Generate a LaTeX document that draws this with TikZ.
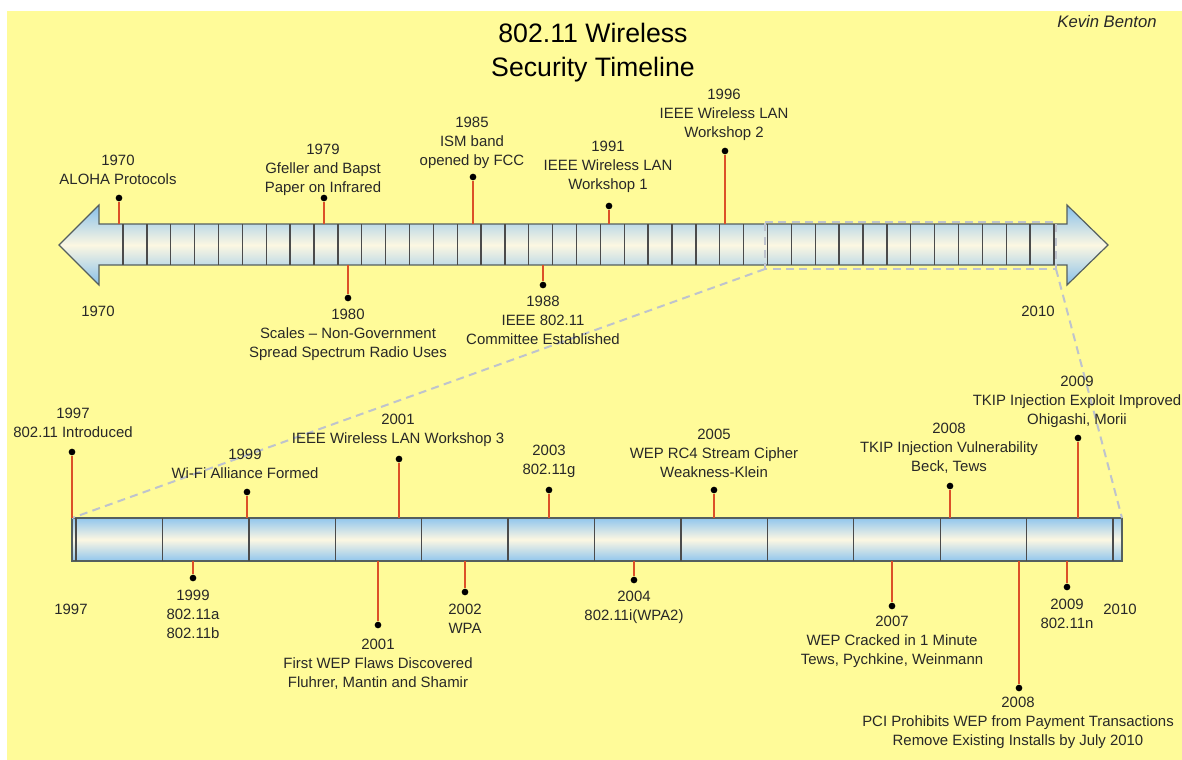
\documentclass[tikz,border=0pt]{standalone}
\usepackage{fontspec}
\setmainfont{Liberation Sans}
\definecolor{bgyellow}{RGB}{255,251,153}
\definecolor{arrowblue}{RGB}{135,192,235}
\definecolor{barblue}{RGB}{145,198,238}
\definecolor{cream}{RGB}{252,247,226}
\definecolor{outl}{RGB}{85,95,95}
\definecolor{tickc}{RGB}{75,75,75}
\definecolor{stemred}{RGB}{220,80,40}
\definecolor{dashc}{RGB}{190,195,205}
\definecolor{txt}{RGB}{40,40,40}
\newcommand\tlev[7]{%
  \coordinate (#1b) at (#2,#3);
  \node[dot] (#1d) at (#2,#4) {};
  \draw[stem] (#1b) -- (#1d);
  \node[lbl] (#1t) at (#5,#6) {#7};
}
\begin{document}
\begin{tikzpicture}[x=0.75pt,y=-0.75pt,
  lbl/.style={font=\fontsize{11.2}{14.3}\selectfont, align=center, inner sep=0pt, text=txt},
  dot/.style={circle, fill=black, inner sep=0pt, minimum size=5pt},
  stem/.style={draw=stemred, line width=1.1pt},
  zoomline/.style={draw=dashc, line width=1.5pt, dash pattern=on 6pt off 4pt},
  tickline/.style={draw=tickc, line width=1pt}]
\useasboundingbox (0,0) rectangle (1182,760);
\fill[white] (0,0) rectangle (1182,760);
\fill[bgyellow] (7,11) rectangle (1182,760);

% title
\node[font=\fontsize{20}{25.5}\selectfont, align=center, inner sep=0pt, text=black] (title) at (593,53) {802.11 Wireless\\Security Timeline};
\node[font=\fontsize{12.5}{14}\selectfont\itshape, inner sep=0pt, text=txt] (author) at (1107,22) {Kevin Benton};

% top arrow
\shade[top color=arrowblue, bottom color=arrowblue, middle color=cream, draw=outl, line width=0.9pt]
  (59,245) -- (99,205) -- (99,224) -- (1067,224) -- (1067,205) -- (1108,245)
  -- (1067,285) -- (1067,265) -- (99,265) -- (99,285) -- cycle;
\foreach \k in {0,...,39} {
  \draw[tickline] ({123+23.87*\k},224) -- ({123+23.87*\k},265);
}

% bottom bar
\shade[top color=barblue, bottom color=barblue, middle color=cream, draw=outl, line width=0.9pt]
  (72,518) rectangle (1122,561);
\foreach \k in {0,...,12} {
  \draw[tickline] ({76+86.42*\k},518) -- ({76+86.42*\k},561);
}

% zoom indicator
\coordinate (zA) at (765,222);
\coordinate (zB) at (1056,222);
\coordinate (zC) at (1056,269);
\coordinate (zD) at (765,269);
\coordinate (bA) at (72,518);
\coordinate (bB) at (1122,518);
\draw[zoomline] (zA) -- (zB) -- (zC) -- (zD) -- cycle;
\draw[zoomline] (zD) -- (bA);
\draw[zoomline] (zC) -- (bB);

% top events
\tlev{a}{119}{224}{198}{118}{170}{1970\\ALOHA Protocols}
\tlev{b}{324}{224}{198}{323}{170}{1979\\Gfeller and Bapst\\Paper on Infrared}
\tlev{c}{473}{224}{177}{472}{142.5}{1985\\ISM band\\opened by FCC}
\tlev{d}{609}{224}{206}{608}{167}{1991\\IEEE Wireless LAN\\Workshop 1}
\tlev{e}{725}{224}{151}{724}{114.5}{1996\\IEEE Wireless LAN\\Workshop 2}
\tlev{f}{348}{265}{298}{348}{335}{1980\\Scales -- Non-Government\\Spread Spectrum Radio Uses}
\tlev{g}{543}{265}{285}{543}{320}{1988\\IEEE 802.11\\Committee Established}
\node[lbl] (y1970) at (98,311) {1970};
\node[lbl] (y2010) at (1038,311) {2010};

% bottom events above
\tlev{h}{72}{518}{452}{73}{423}{1997\\802.11 Introduced}
\tlev{i}{247}{518}{492}{245}{463.5}{1999\\Wi-Fi Alliance Formed}
\tlev{j}{399}{518}{459}{398}{430.5}{2001\\IEEE Wireless LAN Workshop 3}
\tlev{k}{549}{518}{490}{549}{461.5}{2003\\802.11g}
\tlev{l}{714}{518}{490}{714}{453}{2005\\WEP RC4 Stream Cipher\\Weakness-Klein}
\tlev{m}{950}{518}{486}{949}{448}{2008\\TKIP Injection Vulnerability\\Beck, Tews}
\tlev{n}{1078}{518}{438}{1077}{402}{2009\\TKIP Injection Exploit Improved\\Ohigashi, Morii}
% bottom events below
\tlev{o}{193}{561}{578}{193}{614}{1999\\802.11a\\802.11b}
\tlev{p}{378}{561}{625}{378}{664}{2001\\First WEP Flaws Discovered\\Fluhrer, Mantin and Shamir}
\tlev{q}{465}{561}{592}{465}{618.5}{2002\\WPA}
\tlev{r}{634}{561}{580}{634}{607}{2004\\802.11i(WPA2)}
\tlev{s}{892}{561}{606}{892}{642}{2007\\WEP Cracked in 1 Minute\\Tews, Pychkine, Weinmann}
\tlev{t}{1019}{561}{688}{1018}{723}{2008\\PCI Prohibits WEP from Payment Transactions\\Remove Existing Installs by July 2010}
\tlev{u}{1067}{561}{587}{1067}{614}{2009\\802.11n}
\node[lbl] (y1997) at (71,609) {1997};
\node[lbl] (y2010b) at (1120,609) {2010};
\end{tikzpicture}
\end{document}
